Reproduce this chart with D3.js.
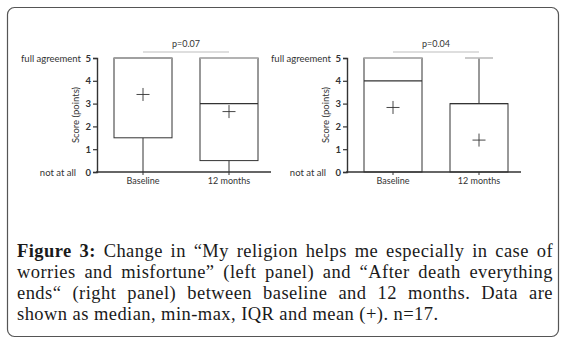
<!DOCTYPE html>
<html>
<head>
<meta charset="utf-8">
<script src="https://cdn.jsdelivr.net/npm/d3@7"></script>
<style>
  body { margin: 0; background: #fff; }
</style>
</head>
<body>
<div id="viz-container"></div>
<script>
// categories and values
const groups = ["Baseline", "12 months"];
const yTicks = [0, 1, 2, 3, 4, 5];

// left panel: "My religion helps me..."
const leftMin = [0, 0];
const leftQ1 = [1.5, 0.5];
const leftMedian = [5, 3];
const leftQ3 = [5, 5];
const leftMax = [5, 5];
const leftMean = [3.4, 2.65];

// right panel: "After death everything ends"
const rightMin = [0, 0];
const rightQ1 = [0, 0];
const rightMedian = [4, 3];
const rightQ3 = [5, 3];
const rightMax = [5, 5];
const rightMean = [2.83, 1.4];

const pValues = ["p=0.07", "p=0.04"];

const captionLines = [
  "Figure 3: Change in \u201cMy religion helps me especially in case of",
  "worries and misfortune\u201d (left panel) and \u201cAfter death everything",
  "ends\u201c (right panel) between baseline and 12 months. Data are",
  "shown as median, min-max, IQR and mean (+). n=17."
];

const panels = [
  {min: leftMin, q1: leftQ1, median: leftMedian, q3: leftQ3, max: leftMax, mean: leftMean, p: pValues[0], dx: 0},
  {min: rightMin, q1: rightQ1, median: rightMedian, q3: rightQ3, max: rightMax, mean: rightMean, p: pValues[1], dx: 250}
];

const dark = "#333";
const light = "#bdbdbd";
const sans = "Lato, 'Open Sans', sans-serif";

let viz = d3.select("#viz-container")
  .append("svg")
    .attr("width", 563)
    .attr("height", 345)
;

// outer frame
viz.append("rect")
  .attr("x", 7.5)
  .attr("y", 7.5)
  .attr("width", 551)
  .attr("height", 329)
  .attr("rx", 7)
  .attr("fill", "none")
  .attr("stroke", "#555")
  .attr("stroke-width", 1.2)
;

let y = d3.scaleLinear().domain([0, 5]).range([172, 58]);
let x = d3.scaleBand().domain(groups).range([100, 272]);
const boxW = 58;
const capW = 28;

panels.forEach(function(p){
  let g = viz.append("g").attr("transform", "translate(" + p.dx + ",0)");

  let boxes = g.selectAll(".box").data(groups).enter()
    .append("g")
      .attr("class", "box")
      .attr("transform", d => "translate(" + (x(d) + x.bandwidth() / 2) + ",0)")
  ;

  // whiskers
  boxes.append("line")
    .attr("x1", 0).attr("x2", 0)
    .attr("y1", (d, i) => y(p.q3[i]))
    .attr("y2", (d, i) => y(p.max[i]))
    .attr("stroke", dark)
  ;
  boxes.append("line")
    .attr("x1", 0).attr("x2", 0)
    .attr("y1", (d, i) => y(p.q1[i]))
    .attr("y2", (d, i) => y(p.min[i]))
    .attr("stroke", dark)
  ;

  // IQR box
  boxes.append("rect")
    .attr("x", -boxW / 2)
    .attr("width", boxW)
    .attr("y", (d, i) => y(p.q3[i]))
    .attr("height", (d, i) => y(p.q1[i]) - y(p.q3[i]))
    .attr("fill", "white")
    .attr("stroke", dark)
  ;

  // median
  boxes.append("line")
    .attr("x1", -boxW / 2).attr("x2", boxW / 2)
    .attr("y1", (d, i) => y(p.median[i]))
    .attr("y2", (d, i) => y(p.median[i]))
    .attr("stroke", dark)
    .attr("stroke-width", 1.3)
  ;

  // max cap, grey
  boxes.append("line")
    .attr("x1", (d, i) => p.max[i] === p.q3[i] ? -boxW / 2 : -capW / 2)
    .attr("x2", (d, i) => p.max[i] === p.q3[i] ? boxW / 2 : capW / 2)
    .attr("y1", (d, i) => y(p.max[i]))
    .attr("y2", (d, i) => y(p.max[i]))
    .attr("stroke", light)
    .attr("stroke-width", 1.6)
  ;

  // mean +
  boxes.append("path")
    .attr("d", (d, i) => "M-6.5," + y(p.mean[i]) + "h13M0," + (y(p.mean[i]) - 6.5) + "v13")
    .attr("stroke", dark)
    .attr("stroke-width", 0.9)
  ;

  // y axis
  let yAxis = g.append("g")
    .attr("transform", "translate(97,0)")
    .call(d3.axisLeft(y).tickValues(yTicks).tickFormat(d3.format("d")).tickSize(4).tickPadding(2))
  ;
  yAxis.select(".domain").attr("stroke", dark).attr("stroke-width", 1.4);
  yAxis.selectAll(".tick line").attr("stroke", dark).attr("stroke-width", 1.2);
  yAxis.selectAll(".tick text")
    .attr("font-family", sans)
    .attr("font-size", 9.5)
    .attr("font-weight", "bold")
    .attr("fill", dark)
  ;

  // x axis
  let xAxis = g.append("g")
    .attr("transform", "translate(0,172)")
    .call(d3.axisBottom(x).tickSize(3).tickPadding(3).tickSizeOuter(0))
  ;
  xAxis.select(".domain")
    .attr("d", "M96,0H271")
    .attr("stroke", dark)
    .attr("stroke-width", 1.6)
  ;
  xAxis.selectAll(".tick line").attr("stroke", dark);
  xAxis.selectAll(".tick text")
    .attr("font-family", sans)
    .attr("font-size", 9)
    .attr("fill", dark)
  ;

  // end labels of the scale
  g.append("text")
    .attr("x", 81).attr("y", y(5) + 3.5)
    .attr("text-anchor", "end")
    .attr("font-family", sans).attr("font-size", 9.5).attr("fill", dark)
    .text("full agreement")
  ;
  g.append("text")
    .attr("x", 76).attr("y", y(0) + 3.5)
    .attr("text-anchor", "end")
    .attr("font-family", sans).attr("font-size", 9.5).attr("fill", dark)
    .text("not at all")
  ;

  // axis title
  g.append("text")
    .attr("transform", "translate(79," + (y(0) + y(5)) / 2 + ") rotate(-90)")
    .attr("text-anchor", "middle")
    .attr("font-family", sans).attr("font-size", 9.5).attr("fill", dark)
    .text("Score (points)")
  ;

  // p-value bracket
  let c0 = x(groups[0]) + x.bandwidth() / 2;
  let c1 = x(groups[1]) + x.bandwidth() / 2;
  g.append("line")
    .attr("x1", c0).attr("x2", c1)
    .attr("y1", 52).attr("y2", 52)
    .attr("stroke", light)
  ;
  g.append("text")
    .attr("x", (c0 + c1) / 2).attr("y", 47)
    .attr("text-anchor", "middle")
    .attr("font-family", sans).attr("font-size", 9).attr("fill", dark)
    .text(p.p)
  ;
});

// caption, justified word by word
const capLeft = 17, capRight = 553, capTop = 257, capStep = 21;
captionLines.forEach(function(line, li){
  let words = line.split(" ");
  let t = viz.append("g");
  let nodes = words.map(function(w, wi){
    return t.append("text")
      .attr("y", capTop + li * capStep)
      .attr("font-family", "'Liberation Serif', 'DejaVu Serif', serif")
      .attr("font-size", 18.5)
      .attr("letter-spacing", 0.45)
      .attr("font-weight", li === 0 && wi < 2 ? "bold" : "normal")
      .attr("fill", "#1a1a1a")
      .text(w)
      .node();
  });
  let widths = nodes.map(n => n.getComputedTextLength());
  let total = d3.sum(widths);
  let gap = li < captionLines.length - 1 ? (capRight - capLeft - total) / (words.length - 1) : 5;
  let pos = capLeft;
  nodes.forEach(function(n, i){
    d3.select(n).attr("x", pos);
    pos += widths[i] + gap;
  });
});
</script>
</body>
</html>
